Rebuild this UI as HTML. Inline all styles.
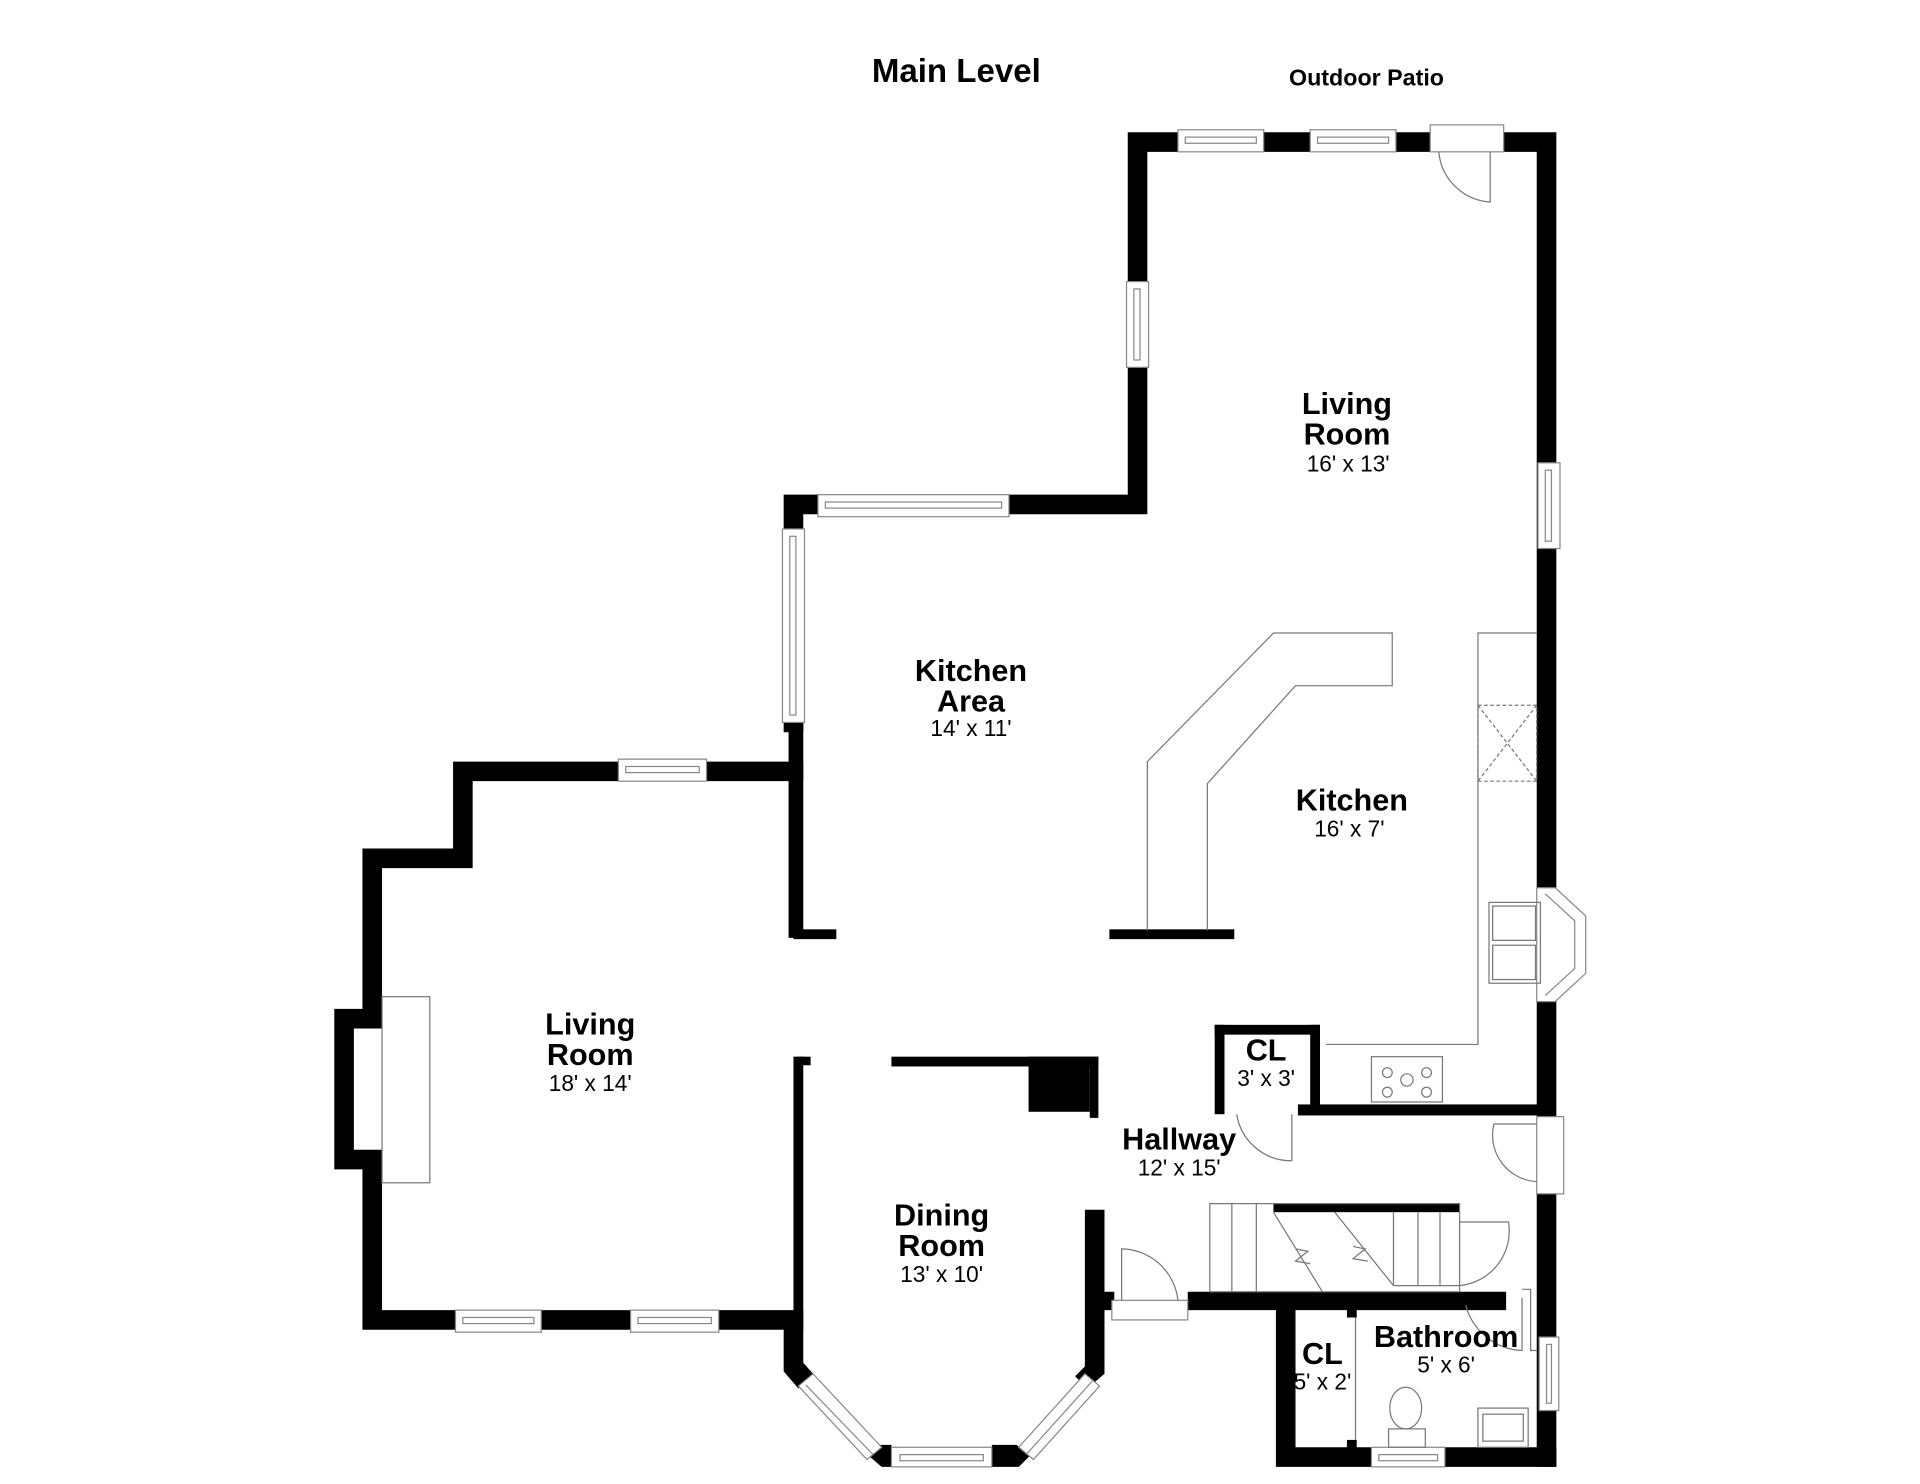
<!DOCTYPE html>
<html><head><meta charset="utf-8"><style>
html,body{margin:0;padding:0;background:#fff;}
svg{display:block}
text{font-family:"Liberation Sans",Arial,sans-serif;text-anchor:middle;fill:#000}
.b{font-weight:bold;font-size:25px}
.d{font-size:18.5px}
</style></head><body>
<svg width="1920" height="1484" viewBox="0 0 1568 1212" preserveAspectRatio="none" xmlns="http://www.w3.org/2000/svg">
<rect width="1568" height="1212" fill="#fff"/>
<g fill="none" stroke="#000" stroke-width="16" stroke-linejoin="miter" stroke-linecap="square">
<polyline points="1263,1190 1263,116 929,116 929,412 648,412 648,590"/>
<polyline points="648,630 378,630 378,701 304,701 304,832 281,832 281,947 304,947 304,1078 648,1078"/>
<polyline points="894,1117 894,988" stroke-linecap="butt"/>
<polyline points="1050,1066 1050,1190 1263,1190"/>
</g>
<g fill="#000">
<polygon points="640,1078 656,1078 656,1113 664,1122 652,1134 640,1120"/>
<polygon points="886,1113 902,1113 902,1122 888,1134 878,1124 886,1116"/>
<polygon points="712,1180 728,1180 728,1198 720,1198 706,1186"/>
<polygon points="810,1180 830,1180 842,1188 832,1198 810,1198"/>
<rect x="644" y="585" width="12" height="181"/>
<rect x="648" y="759" width="35" height="8"/>
<rect x="906" y="759" width="102" height="8"/>
<rect x="652" y="863" width="10" height="7"/>
<rect x="648" y="863" width="8" height="215"/>
<rect x="728" y="863" width="169" height="8"/>
<rect x="840" y="863" width="50" height="45"/>
<rect x="890" y="863" width="7" height="50"/>
<rect x="992" y="837" width="86" height="8"/>
<rect x="992" y="837" width="8" height="73"/>
<rect x="1070" y="837" width="8" height="73"/>
<rect x="1060" y="902" width="203" height="9"/>
<rect x="1040" y="983" width="152" height="7"/>
<rect x="970" y="1055" width="260" height="15"/>
<rect x="902" y="1055" width="8" height="15"/>
<rect x="1100" y="1066" width="8" height="10"/>
<rect x="1100" y="1176" width="8" height="10"/>
</g>
<g fill="#fff" stroke="#888" stroke-width="1">
<rect x="962" y="106" width="70" height="18"/><rect x="968" y="112" width="58" height="5"/>
<rect x="1070" y="106" width="70" height="18"/><rect x="1076" y="112" width="58" height="5"/>
<rect x="1168" y="102" width="60" height="22"/>
<rect x="920" y="230" width="18" height="70"/><rect x="926" y="236" width="5" height="58"/>
<rect x="1256" y="378" width="18" height="70"/><rect x="1262" y="384" width="5" height="58"/>
<rect x="668" y="404" width="156" height="18"/><rect x="674" y="410" width="144" height="5"/>
<rect x="639" y="432" width="18" height="158"/><rect x="645" y="438" width="5" height="146"/>
<rect x="505" y="620" width="72" height="18"/><rect x="511" y="626" width="60" height="5"/>
<rect x="372" y="1070" width="70" height="18"/><rect x="378" y="1076" width="58" height="5"/>
<rect x="515" y="1070" width="72" height="18"/><rect x="521" y="1076" width="60" height="5"/>
<rect x="728" y="1182" width="82" height="16"/><rect x="735" y="1188" width="68" height="5"/>
<polygon points="652,1132 664,1122 720,1182 708,1192"/>
<line x1="658" y1="1131" x2="713" y2="1188"/>
<polygon points="832,1182 886,1122 898,1132 844,1192"/>
<line x1="838" y1="1188" x2="892" y2="1128"/>
<rect x="1255" y="912" width="22" height="63"/>
<rect x="908" y="1062" width="62" height="16"/>
<rect x="1120" y="1182" width="60" height="16"/><rect x="1126" y="1188" width="48" height="5"/>
<rect x="1257" y="1092" width="16" height="60"/><rect x="1263" y="1098" width="4" height="48"/>
<polygon points="1255,725 1270,725 1295,748 1295,795 1270,818 1255,818"/>
<polyline points="1262,730 1286,752 1286,791 1262,813"/>
</g>
<g fill="none" stroke="#777" stroke-width="1">
<rect x="312" y="814" width="39" height="152"/>
<polyline points="937,760 937,622 1040,517 1137,517 1137,560 1058,560 986,640 986,760"/>
<polyline points="1255,517 1207,517 1207,853 1083,853"/>
<rect x="1207" y="576" width="48" height="62" stroke-dasharray="3,2"/>
<path d="M1207,576 L1255,638 M1255,576 L1207,638" stroke-dasharray="3,2"/>
<rect x="1216" y="737" width="42" height="66"/>
<rect x="1219" y="740" width="35" height="28"/><rect x="1219" y="772" width="35" height="28"/>
<rect x="1120" y="863" width="58" height="37"/>
<circle cx="1133" cy="876" r="4"/><circle cx="1165" cy="876" r="4"/><circle cx="1149" cy="882" r="5"/>
<circle cx="1133" cy="892" r="4"/><circle cx="1165" cy="892" r="4"/>
<path d="M1217,124 L1217,165 A45,45 0 0 1 1175,124"/>
<path d="M1010,910 A45,45 0 0 0 1055,948 L1055,910"/>
<path d="M1255,918 L1220,918 A38,38 0 0 0 1255,965"/>
<path d="M916,1062 L916,1020 A47,47 0 0 1 962,1062"/>
<path d="M1192,998 L1232,998 A45,45 0 0 1 1192,1050"/>
<path d="M1197,1066 A50,50 0 0 0 1243,1103 L1243,1060"/>
<rect x="988" y="983" width="204" height="72"/>
<line x1="1006" y1="983" x2="1006" y2="1055"/><line x1="1026" y1="983" x2="1026" y2="1055"/>
<line x1="1040" y1="990" x2="1080" y2="1055"/>
<line x1="1090" y1="990" x2="1138" y2="1050"/>
<line x1="1138" y1="990" x2="1138" y2="1050"/><line x1="1158" y1="990" x2="1158" y2="1050"/><line x1="1176" y1="990" x2="1176" y2="1050"/>
<line x1="1138" y1="1050" x2="1192" y2="1050"/>
<polyline points="1058,1020 1068,1022 1058,1030 1070,1032"/>
<polyline points="1105,1018 1115,1020 1105,1028 1117,1030"/>
<line x1="1107" y1="1076" x2="1107" y2="1176"/>
<ellipse cx="1148" cy="1150" rx="13" ry="17"/>
<rect x="1134" y="1167" width="30" height="15"/>
<rect x="1207" y="1150" width="41" height="32"/><rect x="1211" y="1155" width="33" height="22"/>
<polyline points="1243,1053 1250,1053 1250,1103 1255,1103"/>
</g>
<text x="781" y="67" style="font-weight:bold;font-size:27px">Main Level</text>
<text x="1116" y="70" style="font-weight:bold;font-size:19px">Outdoor Patio</text>
<text class="b" x="1100" y="338">Living</text><text class="b" x="1100" y="363">Room</text><text class="d" x="1101" y="385">16' x 13'</text>
<text class="b" x="793" y="556">Kitchen</text><text class="b" x="793" y="581">Area</text><text class="d" x="793" y="601">14' x 11'</text>
<text class="b" x="1104" y="662">Kitchen</text><text class="d" x="1102" y="683">16' x 7'</text>
<text class="b" x="482" y="845">Living</text><text class="b" x="482" y="870">Room</text><text class="d" x="482" y="891">18' x 14'</text>
<text class="b" x="1034" y="866">CL</text><text class="d" x="1034" y="887">3' x 3'</text>
<text class="b" x="963" y="939">Hallway</text><text class="d" x="963" y="960">12' x 15'</text>
<text class="b" x="769" y="1001">Dining</text><text class="b" x="769" y="1026">Room</text><text class="d" x="769" y="1047">13' x 10'</text>
<text class="b" x="1181" y="1100">Bathroom</text><text class="d" x="1181" y="1121">5' x 6'</text>
<text class="b" x="1080" y="1114">CL</text><text class="d" x="1080" y="1135">5' x 2'</text>
</svg>
</body></html>
